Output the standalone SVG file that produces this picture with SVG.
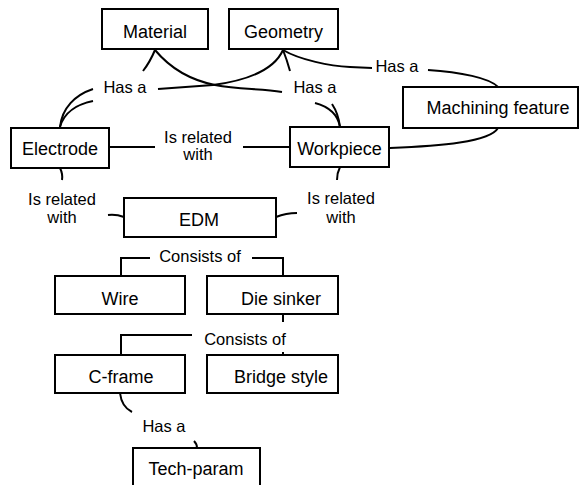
<svg xmlns="http://www.w3.org/2000/svg" width="582" height="485" viewBox="0 0 582 485">
<style>
.box{fill:#fff;stroke:#000;stroke-width:2}
.t{font-family:"Liberation Sans",Arial,sans-serif;font-size:18px;fill:#000;text-anchor:middle}
.l{font-family:"Liberation Sans",Arial,sans-serif;font-size:16.5px;fill:#000;text-anchor:middle}
.c{fill:none;stroke:#000;stroke-width:2}
</style>
<rect width="582" height="485" fill="#fff"/>
<g id="connectors">
<path class="c" d="M155,50 Q150,62 143,71"/>
<path class="c" d="M155,50 C170,68 190,80 215,85 S260,88 282,92"/>
<path class="c" d="M283,50 C275,68 250,80 213,85 L158,89"/>
<path class="c" d="M283,50 Q287,60 290,71"/>
<path class="c" d="M283,50 C300,60 330,66 350,67 L372,68"/>
<path class="c" d="M428,70 C460,72 490,78 498,87"/>
<path class="c" d="M498,128 C490,142 440,146 390,148"/>
<path class="c" d="M93,89 C75,95 62,108 60,127"/>
<path class="c" d="M93,101 C78,104 64,112 60,127"/>
<path class="c" d="M315,103 C330,107 338,115 340,127"/>
<path class="c" d="M332,104 C336,110 339,118 340,127"/>
<path class="c" d="M109,147 L155,147 M243,147 L290,147"/>
<path class="c" d="M60,168 Q63,174 62,180"/>
<path class="c" d="M108,215 Q116,214 124,217"/>
<path class="c" d="M340,167 Q337,173 337,180"/>
<path class="c" d="M276,217 Q286,213 297,213"/>
<path class="c" d="M121,276 L121,258 L150,258 M252,258 L283,258 L283,276"/>
<path class="c" d="M283,314 L283,322"/>
<path class="c" d="M121,355 L121,335 L192,335"/>
<path class="c" d="M283,352 L283,355"/>
<path class="c" d="M120,393 C121,402 124,408 132,412"/>
<path class="c" d="M194,441 Q197,444 197,448"/>
</g>
<g id="material"><rect class="box" x="102" y="9" width="106" height="40"/><text class="t" x="155" y="38">Material</text></g>
<g id="geometry"><rect class="box" x="229" y="9" width="109" height="40"/><text class="t" x="283.5" y="38">Geometry</text></g>
<g id="machining"><rect class="box" x="403" y="87" width="175" height="41"/><text class="t" x="498" y="114">Machining feature</text></g>
<g id="electrode"><rect class="box" x="11" y="128" width="98" height="40"/><text class="t" x="60" y="155">Electrode</text></g>
<g id="workpiece"><rect class="box" x="290" y="127" width="99" height="40"/><text class="t" x="339.5" y="155">Workpiece</text></g>
<g id="edm"><rect class="box" x="124" y="198" width="152" height="39"/><text class="t" x="199" y="226">EDM</text></g>
<g id="wire"><rect class="box" x="55" y="276" width="130" height="38"/><text class="t" x="120" y="305">Wire</text></g>
<g id="diesinker"><rect class="box" x="207" y="276" width="131" height="38"/><text class="t" x="281" y="305">Die sinker</text></g>
<g id="cframe"><rect class="box" x="55" y="355" width="130" height="38"/><text class="t" x="121" y="383">C-frame</text></g>
<g id="bridge"><rect class="box" x="207" y="355" width="131" height="38"/><text class="t" x="281" y="383">Bridge style</text></g>
<g id="techparam"><rect class="box" x="133" y="448" width="127" height="38"/><text class="t" x="196" y="475">Tech-param</text></g>
<g id="labels">
<text class="l" x="125" y="93">Has a</text>
<text class="l" x="315" y="93">Has a</text>
<text class="l" x="397" y="72">Has a</text>
<text class="l" x="198" y="143">Is related</text>
<text class="l" x="198" y="160">with</text>
<text class="l" x="62" y="205">Is related</text>
<text class="l" x="62" y="223">with</text>
<text class="l" x="341" y="204">Is related</text>
<text class="l" x="341" y="223">with</text>
<text class="l" x="200" y="262">Consists of</text>
<text class="l" x="245" y="345">Consists of</text>
<text class="l" x="164" y="432">Has a</text>
</g>
</svg>
